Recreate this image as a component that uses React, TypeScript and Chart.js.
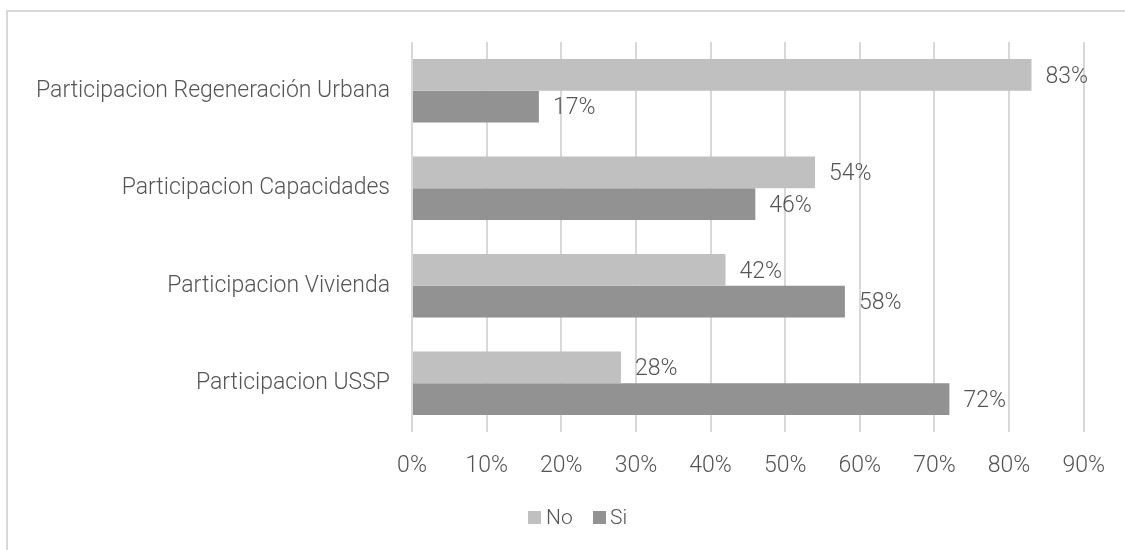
import React, { useEffect, useRef } from "react";
import { Chart, registerables } from "chart.js";

Chart.register(...registerables);

const categories = [
  "Participacion Regeneración Urbana",
  "Participacion Capacidades",
  "Participacion Vivienda",
  "Participacion USSP",
];
const noValues = [83, 54, 42, 28];
const siValues = [17, 46, 58, 72];
const seriesNames = ["No", "Si"];
const colors = ["#c0c0c0", "#929292"];

const FONT = "Roboto, 'Liberation Sans', sans-serif";
const TEXT = "#555555";
const SIZE = 23;

const labelPlugin = {
  id: "barLabels",
  afterDatasetsDraw(chart: any) {
    const ctx = chart.ctx;
    ctx.save();
    ctx.font = `300 ${SIZE}px ${FONT}`;
    ctx.fillStyle = TEXT;
    ctx.textBaseline = "middle";
    ctx.textAlign = "left";
    chart.data.datasets.forEach((ds: any, di: number) => {
      const meta = chart.getDatasetMeta(di);
      meta.data.forEach((bar: any, i: number) => {
        ctx.fillText(ds.data[i] + "%", bar.x + 14, bar.y + 2);
      });
    });
    ctx.restore();
  },
};

export default function App() {
  const ref = useRef<HTMLCanvasElement>(null);
  useEffect(() => {
    const chart = new Chart(ref.current as HTMLCanvasElement, {
      type: "bar",
      data: {
        labels: categories,
        datasets: [
          { label: seriesNames[0], data: noValues, backgroundColor: colors[0] },
          { label: seriesNames[1], data: siValues, backgroundColor: colors[1] },
        ],
      },
      plugins: [labelPlugin],
      options: {
        indexAxis: "y",
        animation: false,
        responsive: false,
        maintainAspectRatio: false,
        layout: { padding: { left: 0, right: 40, top: 42, bottom: 0 } },
        datasets: { bar: { categoryPercentage: 0.65, barPercentage: 1 } } as any,
        plugins: { legend: { display: false }, tooltip: { enabled: false } },
        scales: {
          x: {
            min: 0,
            max: 90,
            ticks: {
              stepSize: 10,
              callback: (v: any) => v + "%",
              font: { family: FONT, size: SIZE, weight: "300" as any },
              color: TEXT,
              padding: 20,
            },
            grid: { color: "#d9d9d9", lineWidth: 2, drawTicks: false },
            border: { display: false },
            afterFit: (s: any) => {
              s.height = 118;
            },
          },
          y: {
            ticks: {
              font: { family: FONT, size: SIZE, weight: "300" as any },
              color: TEXT,
              padding: 22,
            },
            grid: { display: false, drawTicks: false },
            border: { display: false },
            afterFit: (s: any) => {
              s.width = 412;
            },
          },
        },
      },
    });
    return () => chart.destroy();
  }, []);

  const legendText: React.CSSProperties = {
    position: "absolute",
    top: 503,
    fontFamily: FONT,
    fontWeight: 300,
    fontSize: 21,
    color: TEXT,
    lineHeight: "28px",
  };
  const box = (left: number, c: string): React.CSSProperties => ({
    position: "absolute",
    left,
    top: 511,
    width: 13,
    height: 13,
    background: c,
  });

  return (
    <div style={{ position: "fixed", left: 0, top: 0, width: 1125, height: 550, background: "#fff", overflow: "hidden" }}>
      <div
        style={{
          position: "absolute",
          left: 6,
          top: 10,
          width: 1200,
          height: 700,
          border: "2px solid #d9d9d9",
          boxSizing: "border-box",
        }}
      />
      <canvas ref={ref} width={1125} height={550} style={{ position: "absolute", left: 0, top: 0 }} />
      <div style={box(528, colors[0])} />
      <div style={{ ...legendText, left: 546 }}>{seriesNames[0]}</div>
      <div style={box(593, colors[1])} />
      <div style={{ ...legendText, left: 610 }}>{seriesNames[1]}</div>
    </div>
  );
}
